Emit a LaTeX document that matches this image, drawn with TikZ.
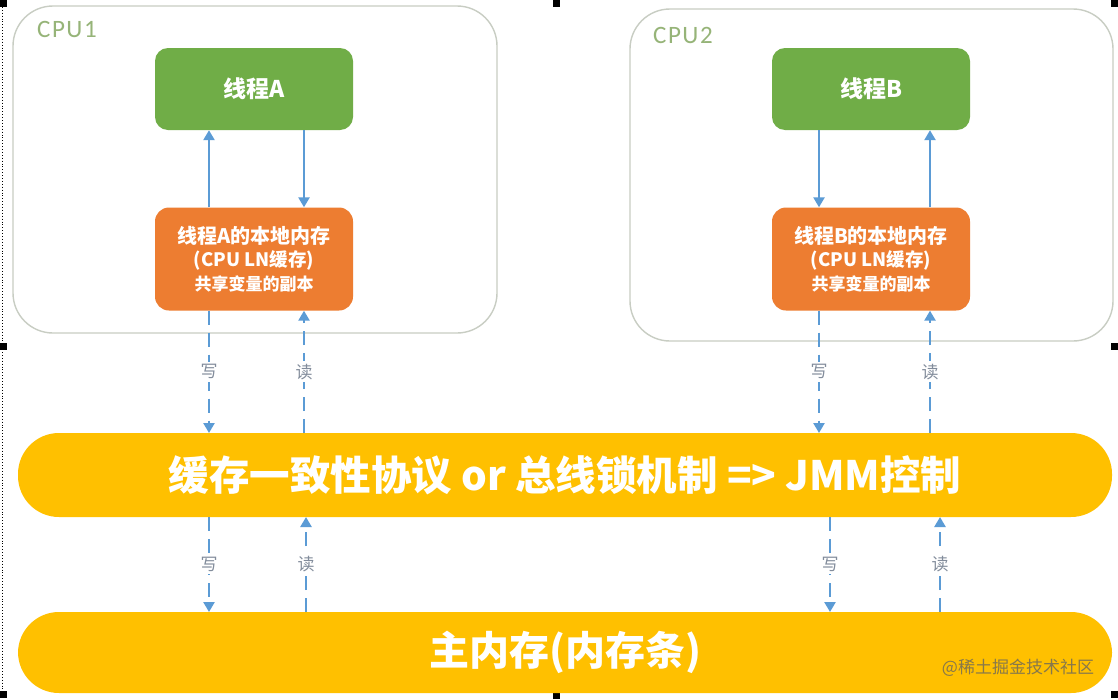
\documentclass[tikz,border=0pt]{standalone}
\usepackage{fontspec}
\setmainfont{Noto Sans CJK SC}
\newfontfamily\latinsans{Carlito}[LetterSpace=6]
\usetikzlibrary{arrows.meta,calc}
\definecolor{cgreen}{RGB}{112,173,71}
\definecolor{corange}{RGB}{237,125,49}
\definecolor{cyellow}{RGB}{255,192,0}
\definecolor{cblue}{RGB}{91,155,213}
\definecolor{cframe}{RGB}{200,205,195}
\definecolor{clabel}{RGB}{150,180,120}
\definecolor{crw}{RGB}{130,140,155}
\definecolor{cwm}{RGB}{135,120,75}
\tikzset{
  cpubox/.style={draw=cframe, line width=1.4pt, rounded corners=40pt},
  cpulabel/.style={text=clabel, font=\latinsans\fontsize{25}{27}\selectfont, anchor=west, inner sep=0pt},
  threadbox/.style={fill=cgreen, rounded corners=13pt, minimum width=198pt, minimum height=82pt, text=white, font=\bfseries\fontsize{23}{26}\selectfont},
  membox/.style={fill=corange, rounded corners=14pt, minimum width=198pt, minimum height=103pt, text=white, align=center, font=\bfseries\fontsize{18.5}{23.5}\selectfont},
  bar/.style={fill=cyellow, rounded corners=41pt},
  bartext/.style={text=white, font=\bfseries\fontsize{40.5}{46}\selectfont},
  solidarrow/.style={draw=cblue, line width=2.4pt, -{Triangle[length=10pt,width=11pt]}},
  dasharrow/.style={draw=cblue, line width=2.4pt, dash pattern=on 14pt off 8pt, -{Triangle[length=10pt,width=11pt]}},
  rwlabel/.style={fill=white, text=crw, inner sep=2.5pt, font=\fontsize{17}{18}\selectfont},
  handle/.style={fill=black, draw=none}
}
\begin{document}
\begin{tikzpicture}[x=1pt,y=-1pt]
\useasboundingbox (0,0) rectangle (1118,699);
\fill[white] (0,0) rectangle (1118,699);

% selection frame
\draw[black, line width=0.9pt, dotted] (2.5,4) -- (2.5,695);
\foreach \hx/\hy in {0/0, 553/0, 1111/0, 0/343, 1111/343, 0/691, 553/692, 1111/691}
  \fill[black] (\hx,\hy) rectangle ++(7,7);

% CPU boxes
\draw[cpubox] (13,6) rectangle (497,333);
\node[cpulabel] (cpu1) at (37,29) {CPU1};
\draw[cpubox] (630,9) rectangle (1113,341);
\node[cpulabel] (cpu2) at (653,35) {CPU2};

% threads
\node[threadbox] (tA) at (254,89) {线程A};
\node[threadbox] (tB) at (871,89) {线程B};
\node[membox] (mA) at (254,259) {{\fontsize{20}{23.5}\selectfont 线程A的本地内存}\\(CPU LN缓存)\\{\fontsize{17}{20}\selectfont 共享变量的副本}};
\node[membox] (mB) at (871,259) {{\fontsize{20}{23.5}\selectfont 线程B的本地内存}\\(CPU LN缓存)\\{\fontsize{17}{20}\selectfont 共享变量的副本}};

% bars
\path[bar] (18,433) rectangle (1112,517);
\node[bartext] (bus) at (565,475) {缓存一致性协议 or 总线锁机制 => JMM控制};
\coordinate (busN) at (565,433);
\coordinate (busS) at (565,517);
\path[bar] (18,612) rectangle (1112,693);
\node[bartext, font=\bfseries\fontsize{40}{46}\selectfont] (mem) at (565,652) {主内存(内存条)};
\coordinate (memN) at (565,612);

% watermark
\node[text=cwm, font=\fontsize{17}{18}\selectfont, inner sep=0pt] (wm) at (1018,668) {@稀土掘金技术社区};

% arrows inside CPU1
\draw[solidarrow] ([xshift=-45pt]mA.north) -- ([xshift=-45pt]tA.south);
\draw[solidarrow] ([xshift=50pt]tA.south) -- ([xshift=50pt]mA.north);
% arrows inside CPU2
\draw[solidarrow] ([xshift=-52pt]tB.south) -- ([xshift=-52pt]mB.north);
\draw[solidarrow] ([xshift=59pt]mB.north) -- ([xshift=59pt]tB.south);

% CPU1 <-> bus
\draw[dasharrow] ([xshift=-45pt]mA.south) -- ([xshift=-45pt]mA.south |- busN) node[midway, rwlabel] {写};
\draw[dasharrow] ([xshift=50pt]mA.south |- busN) -- ([xshift=50pt]mA.south) node[midway, rwlabel] {读};
% CPU2 <-> bus
\draw[dasharrow] ([xshift=-52pt]mB.south) -- ([xshift=-52pt]mB.south |- busN) node[midway, rwlabel] {写};
\draw[dasharrow] ([xshift=59pt]mB.south |- busN) -- ([xshift=59pt]mB.south) node[midway, rwlabel] {读};

% bus <-> main memory
\draw[dasharrow] ([xshift=-45pt]mA.south |- busS) -- ([xshift=-45pt]mA.south |- memN) node[midway, rwlabel] {写};
\draw[dasharrow] ([xshift=52pt]mA.south |- memN) -- ([xshift=52pt]mA.south |- busS) node[midway, rwlabel] {读};
\draw[dasharrow] ([xshift=-41pt]mB.south |- busS) -- ([xshift=-41pt]mB.south |- memN) node[midway, rwlabel] {写};
\draw[dasharrow] ([xshift=69pt]mB.south |- memN) -- ([xshift=69pt]mB.south |- busS) node[midway, rwlabel] {读};
\end{tikzpicture}
\end{document}
